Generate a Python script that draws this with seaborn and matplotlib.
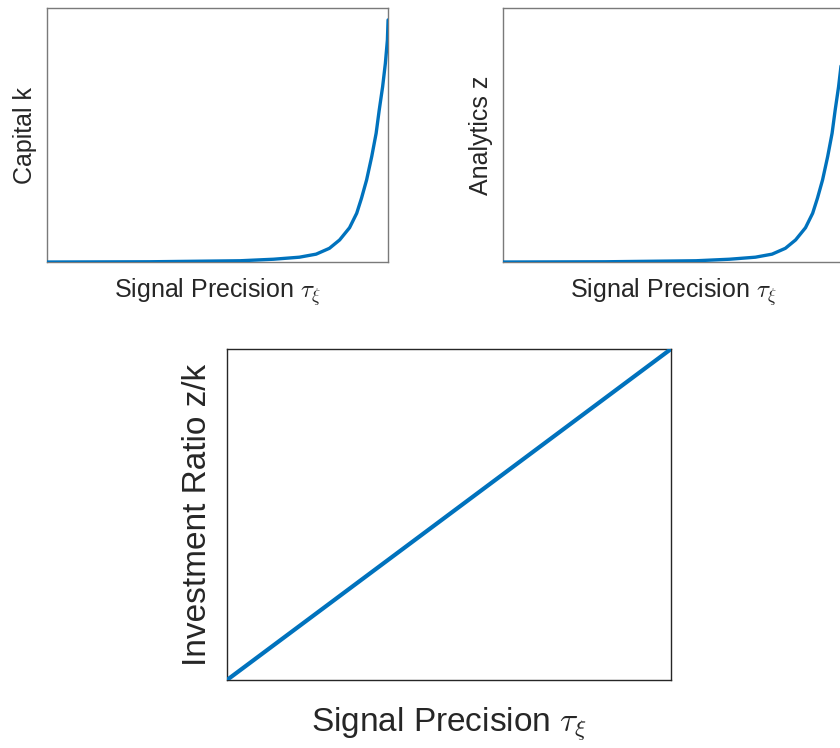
"""
Investment response to signal precision: capital, analytics and their ratio.
"""

import matplotlib
matplotlib.use("Agg")
import matplotlib.pyplot as plt
import seaborn as sns
import pandas as pd

# Values (axes normalised to 0..1)
precision = [0.0, 0.30, 0.566, 0.664, 0.740, 0.789, 0.828, 0.858, 0.887, 0.908, 0.922,
             0.937, 0.952, 0.965, 0.974, 0.984, 0.992, 0.998, 1.0]
capital = [0.0, 0.001, 0.005, 0.011, 0.019, 0.031, 0.054, 0.087, 0.135, 0.192, 0.251,
           0.323, 0.415, 0.507, 0.598, 0.690, 0.782, 0.874, 0.953]
analytics = [0.0, 0.001, 0.005, 0.011, 0.019, 0.031, 0.054, 0.087, 0.135, 0.192, 0.251,
             0.323, 0.415, 0.507, 0.598, 0.690, 0.782, 0.874, 0.953]

ratio_precision = [0.0, 1.0]
ratio = [0.0, 1.0]

LINE_COLOR = "#0072BD"
XLABEL = r"Signal Precision $\tau_{\xi}$"

sns.set_theme(style="white")
plt.rcParams["font.family"] = ["Liberation Sans", "DejaVu Sans"]
plt.rcParams["mathtext.fontset"] = "cm"

fig = plt.figure(figsize=(8.4, 7.48), dpi=100)

ax_k = fig.add_axes([0.056, 0.6497, 0.406, 0.3396])
ax_z = fig.add_axes([0.5988, 0.6497, 0.406, 0.3396])
ax_r = fig.add_axes([0.2702, 0.0909, 0.5286, 0.4425])

top_df = pd.DataFrame({"precision": precision, "capital": capital, "analytics": analytics})
ratio_df = pd.DataFrame({"precision": ratio_precision, "ratio": ratio})

sns.lineplot(data=top_df, x="precision", y="capital", ax=ax_k, color=LINE_COLOR, linewidth=2.4)
sns.lineplot(data=top_df, x="precision", y="analytics", ax=ax_z, color=LINE_COLOR, linewidth=2.4)
sns.lineplot(data=ratio_df, x="precision", y="ratio", ax=ax_r, color=LINE_COLOR, linewidth=3.0)

for ax, ylabel, size, spine_color, xpad, ypad in [
    (ax_k, "Capital k", 18, "#7a7a7a", 10, 7),
    (ax_z, "Analytics z", 18, "#7a7a7a", 10, 7),
    (ax_r, "Investment Ratio z/k", 24, "#262626", 18, 10),
]:
    ax.set_xlim(0, 1)
    ax.set_ylim(0, 1)
    ax.set_xticks([])
    ax.set_yticks([])
    ax.set_xlabel(XLABEL, fontsize=size, color="#262626", labelpad=xpad)
    ax.set_ylabel(ylabel, fontsize=size, color="#262626", labelpad=ypad)
    for spine in ax.spines.values():
        spine.set_visible(True)
        spine.set_color(spine_color)
        spine.set_linewidth(1.0)
        spine.set_zorder(0)

fig.savefig("out.png", dpi=100)
